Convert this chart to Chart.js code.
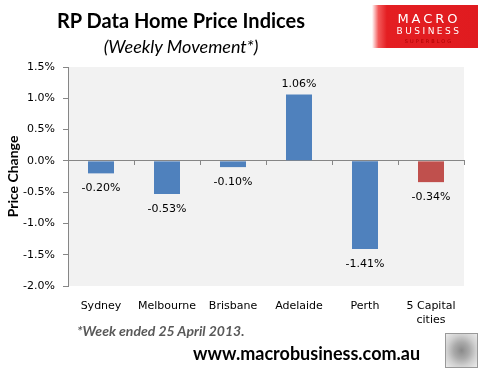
<!DOCTYPE html>
<html>
<head>
<meta charset="utf-8">
<script src="https://cdn.jsdelivr.net/npm/chart.js@4.4.0/dist/chart.umd.min.js"></script>
<style>
  body { margin: 0; background: #fff; }
  #wrap { position: relative; width: 486px; height: 376px; overflow: hidden; }
  #chart { position: absolute; left: 0; top: 0; }
  .txt { position: absolute; white-space: nowrap; }
  #title { left: 0; width: 362px; top: 8px; text-align: center; font: bold 20px Lato, sans-serif; color: #000; }
  #sub { left: 0; width: 362px; top: 35px; text-align: center; font: italic 18px Lato, sans-serif; color: #000; }
  #note { left: 77px; top: 322px; font: italic bold 14px Lato, sans-serif; color: #595959; }
  #url { left: 193px; top: 342px; font: bold 18px Lato, sans-serif; color: #000; }
  #logo { position: absolute; left: 372px; top: 5px; width: 106px; height: 43px;
    background: linear-gradient(90deg, #fff 0%, #f35a5a 6%, #e41e22 14%, #e01b1f 100%); }
  #logo div { position: absolute; left: 0; width: 100%; text-align: center; padding-left: 8px; box-sizing: border-box; }
  #wolf { position: absolute; left: 445px; top: 333px; width: 31px; height: 33px;
    border: 1px solid #999; background: radial-gradient(ellipse at 50% 50%, #8a8a8a 0%, #a9a9a9 35%, #cfcfcf 65%, #ececec 100%); }
</style>
</head>
<body>
<div id="wrap">
  <canvas id="chart" width="486" height="376"></canvas>
  <div class="txt" id="title">RP Data Home Price Indices</div>
  <div class="txt" id="sub">(Weekly Movement*)</div>
  <div id="logo">
    <div style="top:6px;font:13px 'DejaVu Sans',sans-serif;letter-spacing:3px;color:#fff;">MACRO</div>
    <div style="top:21px;font:9px 'DejaVu Sans',sans-serif;letter-spacing:2.5px;color:#fff;">BUSINESS</div>
    <div style="top:33px;font:5px 'DejaVu Sans',sans-serif;letter-spacing:2px;color:#a00;">SUPERBLOG</div>
  </div>
  <div class="txt" id="note">*Week ended 25 April 2013.</div>
  <div class="txt" id="url">www.macrobusiness.com.au</div>
  <div id="wolf"></div>
</div>
<script>
const cities = ["Sydney", "Melbourne", "Brisbane", "Adelaide", "Perth", ["5 Capital", "cities"]];
const weeklyChange = [-0.20, -0.53, -0.10, 1.06, -1.41, -0.34];
const yTicks = [-2.0, -1.5, -1.0, -0.5, 0.0, 0.5, 1.0, 1.5];

const barColors = weeklyChange.map((v, i) => i === weeklyChange.length - 1 ? "#c0504d" : "#4f81bd");

const plotBg = {
  id: "plotBg",
  beforeDraw(chart) {
    const { ctx, chartArea: a } = chart;
    ctx.save();
    ctx.fillStyle = "#f2f2f2";
    ctx.fillRect(a.left, a.top, a.right - a.left, a.bottom - a.top);
    ctx.restore();
  }
};

const valueLabels = {
  id: "valueLabels",
  afterDatasetsDraw(chart) {
    const ctx = chart.ctx;
    const meta = chart.getDatasetMeta(0);
    ctx.save();
    ctx.font = "11px 'DejaVu Sans', sans-serif";
    ctx.fillStyle = "#000";
    ctx.textAlign = "center";
    ctx.textBaseline = "middle";
    meta.data.forEach((bar, i) => {
      const v = weeklyChange[i];
      const y = v >= 0 ? bar.y - 10 : bar.y + 15;
      ctx.fillText(v.toFixed(2) + "%", bar.x, y);
    });
    ctx.restore();
  }
};

new Chart(document.getElementById("chart"), {
  type: "bar",
  data: {
    labels: cities,
    datasets: [{
      data: weeklyChange,
      backgroundColor: barColors,
      barPercentage: 0.394,
      categoryPercentage: 1
    }]
  },
  options: {
    responsive: false,
    animation: false,
    layout: { padding: { top: 67, right: 22, bottom: 0, left: 0 } },
    plugins: { legend: { display: false }, tooltip: { enabled: false } },
    scales: {
      x: {
        position: "bottom",
        grid: { display: false },
        border: { display: false },
        ticks: { padding: 6, color: "#000", font: { family: "DejaVu Sans", size: 11 }, maxRotation: 0 },
        afterFit(scale) { scale.height = 90; }
      },
      x2: {
        type: "category",
        position: { y: 0 },
        grid: { display: true, drawOnChartArea: false, drawTicks: true, tickLength: 4, tickColor: "#868686", offset: true },
        border: { display: true, color: "#868686", width: 1 },
        ticks: { display: false },
        afterFit(scale) { scale.height = 0; }
      },
      y: {
        min: -2.0,
        max: 1.5,
        afterBuildTicks(scale) { scale.ticks = yTicks.map(v => ({ value: v })); },
        grid: { display: true, drawOnChartArea: false, drawTicks: true, tickLength: 5, color: "#868686", tickColor: "#868686" },
        border: { display: true, color: "#868686" },
        ticks: {
          padding: 8,
          color: "#000",
          font: { family: "DejaVu Sans", size: 11 },
          callback: v => v.toFixed(1) + "%"
        },
        title: { display: true, text: "Price Change", color: "#000", padding: { top: 5, bottom: 0 }, font: { family: "Lato", size: 14, weight: "bold" } },
        afterFit(scale) { scale.width = 68; }
      }
    }
  },
  plugins: [plotBg, valueLabels]
});
</script>
</body>
</html>
